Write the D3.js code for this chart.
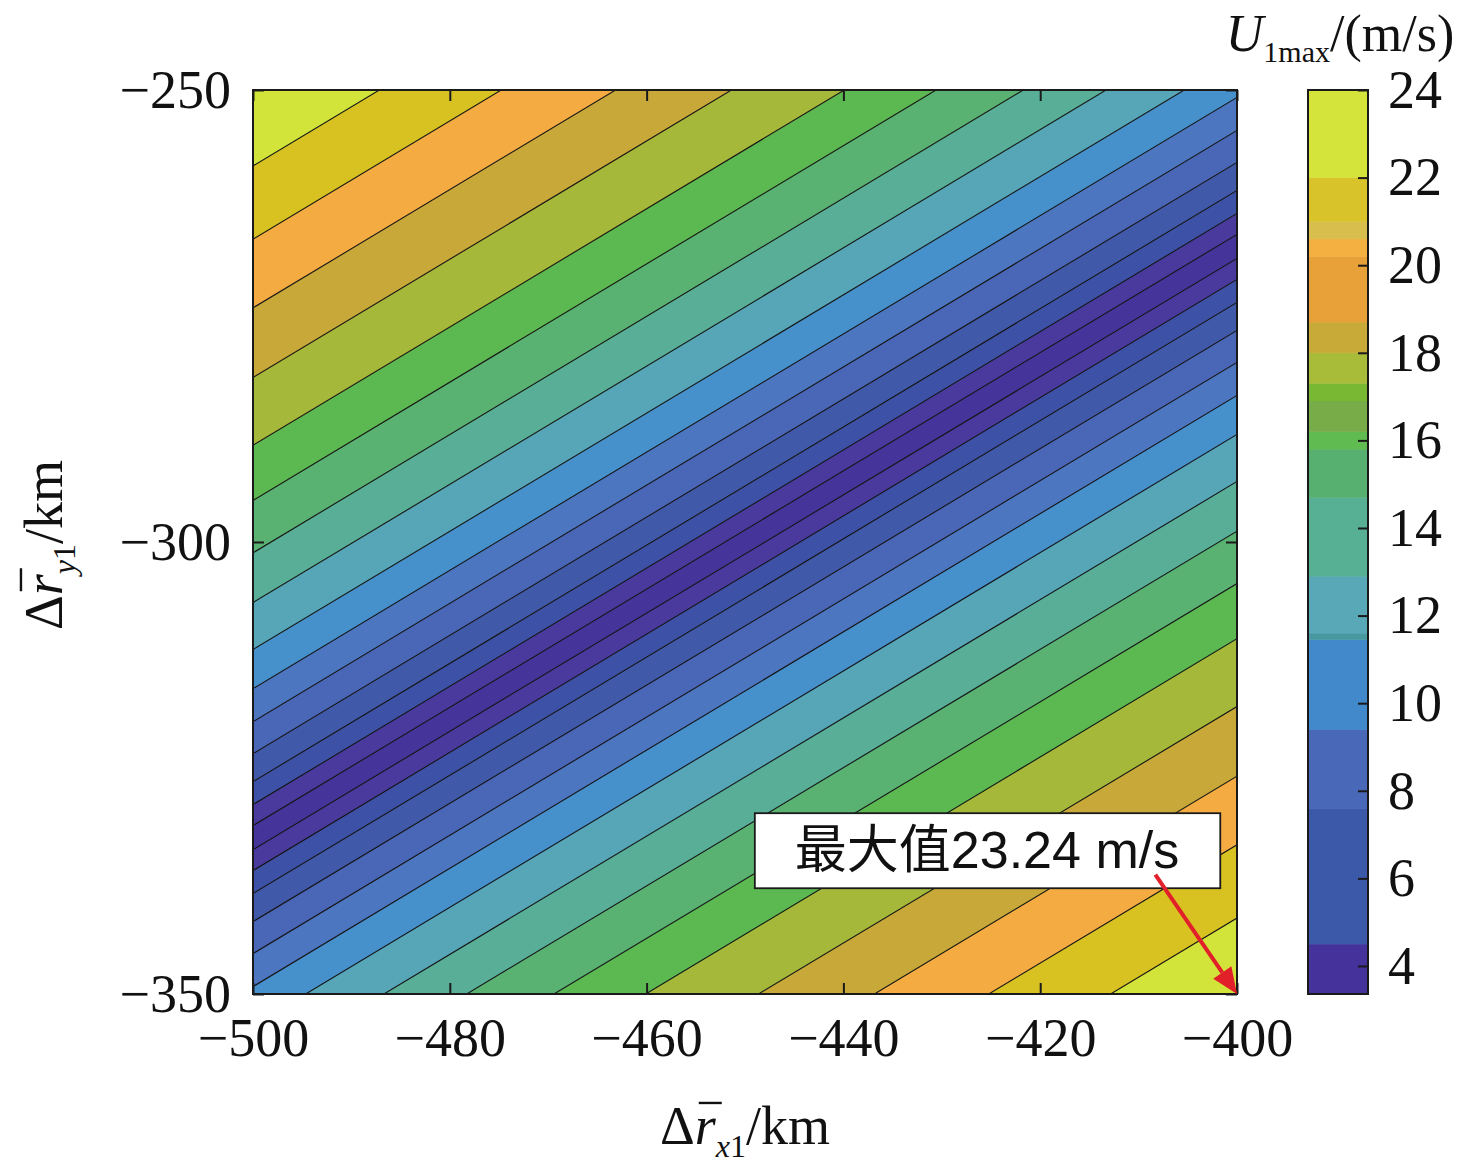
<!DOCTYPE html>
<html>
<head>
<meta charset="utf-8">
<script src="https://cdn.jsdelivr.net/npm/d3@7"></script>
<style>
  body { margin: 0; background: #ffffff; }
  svg { display: block; }
</style>
</head>
<body>
<script>
// contour levels of U1max (m/s); each level shows up as one line on either side of the valley
const levels = [4.0, 5.27, 6.54, 7.81, 9.08, 10.35, 11.62, 12.89, 14.16, 15.43, 16.7, 17.97, 19.24, 20.51, 21.78];
// vertical distance (km) of each level line from the valley line
const levelOffsets = [1.33, 3.65, 6.19, 9.29, 12.83, 16.48, 20.8, 26.0, 31.5, 37.3, 43.4, 50.9, 58.6, 66.2, 74.3];
// valley (minimum) line, at the left and right plot edges
const valleyX = [-500, -400];
const valleyY = [-332.7, -267.3];
const minValue = 3.36;

// fill colour of each band, counted outward from the valley
const bandColors = ['#45349a', '#4a3a9e', '#3d52a6', '#4159a9', '#4a66b6', '#4d76c0', '#4690cc', '#56a6b8',
                    '#58ae96', '#5ab272', '#5cb850', '#a6b83a', '#c8a838', '#f4ac42', '#d8c222', '#d2e43a'];

// colour bar as drawn in the figure: [from, to, colour]
const cbBands = [
    [3.36, 4.5, '#45329a'], [4.5, 7.6, '#3c58a8'], [7.6, 9.4, '#4a68b8'], [9.4, 11.45, '#4189ca'],
    [11.45, 11.6, '#4898a0'], [11.6, 12.9, '#58a8b8'], [12.9, 14.7, '#58b094'], [14.7, 15.8, '#58b070'],
    [15.8, 16.2, '#60bc50'], [16.2, 16.9, '#78ac48'], [16.9, 17.3, '#78b832'], [17.3, 18.0, '#a8bc3a'],
    [18.0, 18.7, '#c8aa38'], [18.7, 20.2, '#e8a038'], [20.2, 20.6, '#f4b040'], [20.6, 21.0, '#d8be4c'],
    [21.0, 22.0, '#d8c42a'], [22.0, 24.0, '#d4e43a']
];

const xTicks = [-500, -480, -460, -440, -420, -400];
const yTicks = [-350, -300, -250];
const cbTicks = [4, 6, 8, 10, 12, 14, 16, 18, 20, 22, 24];

const maxPoint = [-400, -350];
const maxLabel = "最大值23.24 m/s";

// ---- page setup
const W = 1476, H = 1175;
const plot = {left: 253, right: 1237, top: 90, bottom: 994};
const serif = "'Liberation Serif', 'Times New Roman', serif";

const svg = d3.select("body").append("svg")
    .attr("width", W)
    .attr("height", H);

const x = d3.scaleLinear().domain([-500, -400]).range([plot.left, plot.right]);
const y = d3.scaleLinear().domain([-350, -250]).range([plot.bottom, plot.top]);

svg.append("clipPath").attr("id", "plotClip")
    .append("rect")
    .attr("x", plot.left).attr("y", plot.top)
    .attr("width", plot.right - plot.left).attr("height", plot.bottom - plot.top);

const field = svg.append("g").attr("clip-path", "url(#plotClip)");

// band boundaries as signed offsets from the valley, far away at both ends
const FAR = 300;
const bounds = [-FAR].concat(levelOffsets.slice().reverse().map(o => -o), levelOffsets, [FAR]);
const mid = levelOffsets.length;

const color = d3.scaleThreshold().domain(levels).range(bandColors);
const bandValue = b => b === 0 ? minValue : levels[b - 1];

function stripe (a, b) {
    return d3.line()([
        [x(valleyX[0]), y(valleyY[0] + a)],
        [x(valleyX[1]), y(valleyY[1] + a)],
        [x(valleyX[1]), y(valleyY[1] + b)],
        [x(valleyX[0]), y(valleyY[0] + b)]
    ]) + "Z";
}

for (var i = 0; i < bounds.length - 1; i++) {
    var band = Math.abs(i - mid);
    var c = color(bandValue(band));
    field.append("path")
        .attr("d", stripe(bounds[i], bounds[i + 1]))
        .attr("fill", c)
        .attr("stroke", c)
        .attr("stroke-width", 0.8);
}

// contour lines
const lineOffsets = levelOffsets.concat(levelOffsets.map(o => -o));
field.selectAll("path.level")
    .data(lineOffsets)
    .join("path")
    .attr("class", "level")
    .attr("d", o => d3.line()([[x(valleyX[0]), y(valleyY[0] + o)], [x(valleyX[1]), y(valleyY[1] + o)]]))
    .attr("fill", "none")
    .attr("stroke", "#151515")
    .attr("stroke-width", 1.1);

// frame
svg.append("rect")
    .attr("x", plot.left).attr("y", plot.top)
    .attr("width", plot.right - plot.left).attr("height", plot.bottom - plot.top)
    .attr("fill", "none").attr("stroke", "#1a1a1a").attr("stroke-width", 2);

// axes, ticks pointing inward on all four sides
const tickLen = 11;
const fmt = d3.format("d");

svg.append("g")
    .attr("transform", `translate(0,${plot.bottom})`)
    .call(d3.axisBottom(x).tickValues(xTicks).tickSize(-tickLen).tickPadding(24).tickFormat(fmt))
    .call(g => g.select(".domain").remove());
svg.append("g")
    .attr("transform", `translate(0,${plot.top})`)
    .call(d3.axisTop(x).tickValues(xTicks).tickSize(-tickLen).tickFormat(""))
    .call(g => g.select(".domain").remove());
svg.append("g")
    .attr("transform", `translate(${plot.left},0)`)
    .call(d3.axisLeft(y).tickValues(yTicks).tickSize(-tickLen).tickPadding(22).tickFormat(fmt))
    .call(g => g.select(".domain").remove());
svg.append("g")
    .attr("transform", `translate(${plot.right},0)`)
    .call(d3.axisRight(y).tickValues(yTicks).tickSize(-tickLen).tickFormat(""))
    .call(g => g.select(".domain").remove());

svg.selectAll(".tick line").attr("stroke", "#1a1a1a").attr("stroke-width", 2);
svg.selectAll(".tick text")
    .attr("font-family", serif)
    .attr("font-size", 54)
    .attr("fill", "#111");

// ---- rich text helper (italic, subscript, overbar)
function richText (parent, segs, cx, baseline) {
    var g = parent.append("g");
    var cur = 0;
    var items = segs.map(function (s) {
        var size = s.size || 54;
        var t = g.append("text")
            .attr("y", baseline + (s.dy || 0))
            .attr("font-family", serif)
            .attr("font-size", size)
            .attr("font-style", s.italic ? "italic" : "normal")
            .attr("fill", "#111")
            .text(s.t);
        var w = t.node().getComputedTextLength();
        var item = {t: t, x: cur, w: w, s: s, size: size};
        cur += w;
        return item;
    });
    var start = cx - cur / 2;
    items.forEach(function (it) {
        it.t.attr("x", start + it.x);
        if (it.s.bar) {
            g.append("line")
                .attr("x1", start + it.x + 4).attr("x2", start + it.x + it.w + 6)
                .attr("y1", baseline - 0.76 * it.size).attr("y2", baseline - 0.76 * it.size)
                .attr("stroke", "#111").attr("stroke-width", 2.4);
        }
    });
    return g;
}

// x axis label
richText(svg, [
    {t: "Δ"}, {t: "r", italic: true, bar: true},
    {t: "x", italic: true, size: 32, dy: 13}, {t: "1", size: 32, dy: 13},
    {t: "/km"}
], 745, 1144);

// y axis label (rotated)
const yl = svg.append("g").attr("transform", "translate(62,545) rotate(-90)");
richText(yl, [
    {t: "Δ"}, {t: "r", italic: true, bar: true},
    {t: "y", italic: true, size: 32, dy: 13}, {t: "1", size: 32, dy: 13},
    {t: "/km"}
], 0, 0);

// ---- colour bar
const cb = {left: 1308, width: 60};
const cbY = d3.scaleLinear().domain([minValue, 24]).range([plot.bottom, plot.top]);

svg.append("g").selectAll("rect")
    .data(cbBands)
    .join("rect")
    .attr("x", cb.left)
    .attr("width", cb.width)
    .attr("y", d => cbY(d[1]))
    .attr("height", d => cbY(d[0]) - cbY(d[1]))
    .attr("fill", d => d[2])
    .attr("stroke", d => d[2])
    .attr("stroke-width", 0.5);

svg.append("rect")
    .attr("x", cb.left).attr("y", plot.top)
    .attr("width", cb.width).attr("height", plot.bottom - plot.top)
    .attr("fill", "none").attr("stroke", "#1a1a1a").attr("stroke-width", 2);

const cbAxis = svg.append("g")
    .attr("transform", `translate(${cb.left + cb.width},0)`)
    .call(d3.axisRight(cbY).tickValues(cbTicks).tickSize(-10).tickPadding(20).tickFormat(fmt))
    .call(g => g.select(".domain").remove());
cbAxis.selectAll(".tick line").attr("stroke", "#1a1a1a").attr("stroke-width", 2);
cbAxis.selectAll(".tick text")
    .attr("font-family", serif)
    .attr("font-size", 54)
    .attr("fill", "#111");

// colour bar title
richText(svg, [
    {t: "U", italic: true, size: 52}, {t: "1max", size: 30, dy: 11}, {t: "/(m/s)", size: 52}
], 1340, 51);

// ---- maximum annotation
const box = {x0: -449.0, x1: -401.7, y0: -330.0, y1: -338.3};
const tail = [-408.3, -336.8];

svg.append("rect")
    .attr("x", x(box.x0)).attr("y", y(box.y0))
    .attr("width", x(box.x1) - x(box.x0)).attr("height", y(box.y1) - y(box.y0))
    .attr("fill", "#ffffff").attr("stroke", "#1a1a1a").attr("stroke-width", 1.8);

svg.append("text")
    .attr("x", x(box.x0) + 40)
    .attr("y", y(box.y1) - 20)
    .attr("font-family", "'Liberation Sans', Arial, 'Noto Sans CJK SC', sans-serif")
    .attr("font-size", 52)
    .attr("fill", "#111")
    .text(maxLabel);

// red arrow to the maximum
const p0 = [x(tail[0]), y(tail[1])];
const p1 = [x(maxPoint[0]), y(maxPoint[1])];
const len = Math.hypot(p1[0] - p0[0], p1[1] - p0[1]);
const ux = (p1[0] - p0[0]) / len, uy = (p1[1] - p0[1]) / len;
const headLen = 26, headW = 11;
const base = [p1[0] - ux * headLen, p1[1] - uy * headLen];

svg.append("line")
    .attr("x1", p0[0]).attr("y1", p0[1])
    .attr("x2", base[0]).attr("y2", base[1])
    .attr("stroke", "#e2202a").attr("stroke-width", 4);
svg.append("path")
    .attr("d", d3.line()([
        p1,
        [base[0] - uy * headW, base[1] + ux * headW],
        [base[0] + uy * headW, base[1] - ux * headW]
    ]) + "Z")
    .attr("fill", "#e2202a");
</script>
</body>
</html>
